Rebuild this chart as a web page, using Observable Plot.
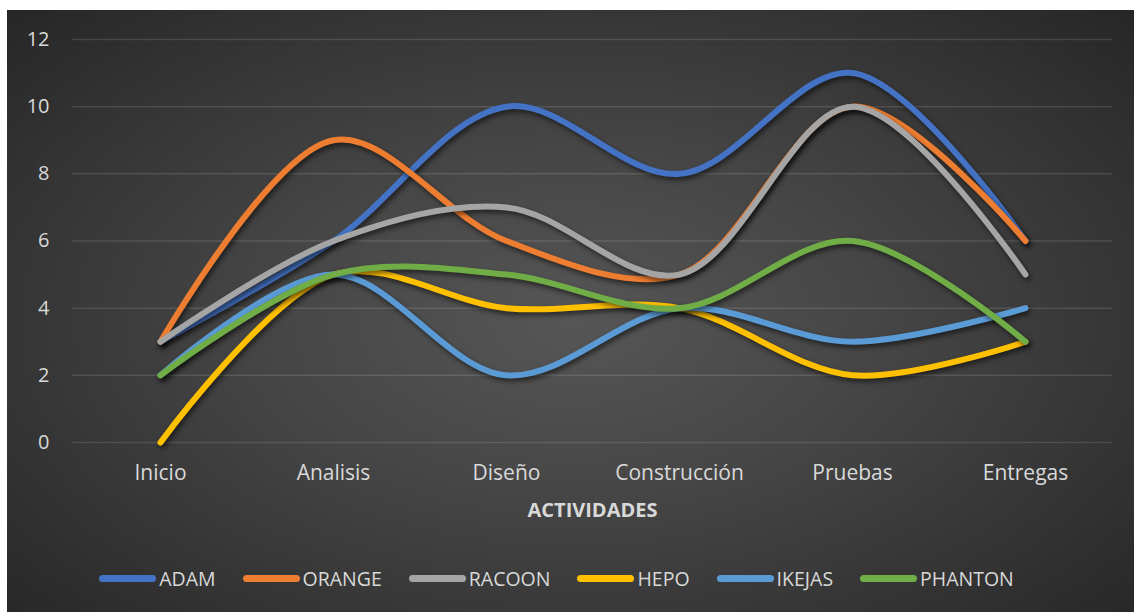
<!DOCTYPE html>
<html>
<head>
<meta charset="utf-8">
<script src="https://cdn.jsdelivr.net/npm/d3@7"></script>
<script src="https://cdn.jsdelivr.net/npm/@observablehq/plot@0.6"></script>
<style>
  html, body { margin: 0; padding: 0; background: #ffffff; }
  #card {
    position: absolute; left: 7px; top: 10px; width: 1127px; height: 602px;
    background: radial-gradient(ellipse 70% 75% at 50% 52%, #565656 0%, #454545 40%, #333333 75%, #262626 100%);
    font-family: "Open Sans", sans-serif; overflow: hidden;
  }
  #legend {
    position: absolute; left: 0; right: 0; top: 555px; display: flex; justify-content: center;
    gap: 27px; color: #d9d9d9; font-size: 19.5px; padding-right: 28px;
  }
  .item { display: flex; align-items: center; gap: 3px; }
  .sw { width: 57px; height: 7px; border-radius: 4px; }
</style>
</head>
<body>
<div id="card"><div id="chart"></div><div id="legend"></div></div>
<script>
// Activities along the x axis
const categories = ["Inicio", "Analisis", "Diseño", "Construcción", "Pruebas", "Entregas"];

// Score per team for each activity
const adam    = [3, 6, 10, 8, 11, 6];
const orange  = [3, 9, 6, 5, 10, 6];
const racoon  = [3, 6, 7, 5, 10, 5];
const hepo    = [0, 5, 4, 4, 2, 3];
const ikejas  = [2, 5, 2, 4, 3, 4];
const phanton = [2, 5, 5, 4, 6, 3];

const seriesNames = ["ADAM", "ORANGE", "RACOON", "HEPO", "IKEJAS", "PHANTON"];
const seriesValues = [adam, orange, racoon, hepo, ikejas, phanton];
const seriesColors = ["#4472C4", "#ED7D31", "#A5A5A5", "#FFC000", "#5B9BD5", "#70AD47"];
const yTicks = [0, 2, 4, 6, 8, 10, 12];

const rows = seriesNames.flatMap((name, i) =>
  categories.map((cat, j) => ({series: name, activity: cat, value: seriesValues[i][j]}))
);

const chart = Plot.plot({
  width: 1127,
  height: 520,
  marginLeft: 65,
  marginRight: 22,
  marginTop: 29,
  marginBottom: 88,
  style: {background: "transparent", color: "#d9d9d9", fontFamily: "Open Sans, sans-serif", fontSize: "20px", overflow: "visible"},
  x: {type: "point", domain: categories, padding: 0.5, label: null},
  y: {domain: [0, 12], ticks: yTicks, label: null},
  color: {domain: seriesNames, range: seriesColors},
  marks: [
    Plot.gridY(yTicks, {stroke: "#ffffff", strokeOpacity: 0.12, strokeWidth: 1.5}),
    Plot.axisY(yTicks, {tickSize: 0, tickPadding: 23, fontSize: 20, fill: "#d9d9d9", label: null}),
    Plot.axisX({tickSize: 0, tickPadding: 23, fontSize: 21, fill: "#d9d9d9", label: null}),
    Plot.text(["ACTIVIDADES"], {frameAnchor: "bottom", dy: 74, fontWeight: "bold", fontSize: 20, fill: "#d9d9d9"}),
    Plot.line(rows, {
      x: "activity", y: "value", z: "series", stroke: "series",
      strokeWidth: 6, strokeLinecap: "round", strokeLinejoin: "round",
      curve: "catmull-rom"
    })
  ]
});

d3.select(chart).selectAll("g[aria-label=line] path")
  .style("filter", "drop-shadow(2px 3px 2.5px rgba(0,0,0,0.55))");

document.getElementById("chart").appendChild(chart);

const legend = d3.select("#legend");
seriesNames.forEach((name, i) => {
  const item = legend.append("div").attr("class", "item");
  item.append("div").attr("class", "sw").style("background", seriesColors[i]);
  item.append("span").text(name);
});
</script>
</body>
</html>
